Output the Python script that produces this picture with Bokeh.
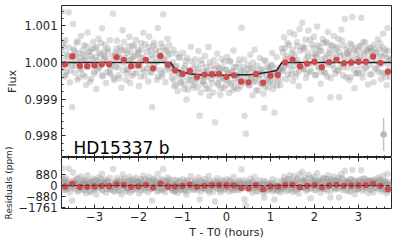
from bokeh.plotting import figure
from bokeh.layouts import column
from bokeh.models import (Range1d, LinearAxis, SingleIntervalTicker, FixedTicker,
                          CustomJSTickFormatter, Span, Label)
from bokeh.embed import file_html
from bokeh.resources import INLINE
import numpy as np

# ---------------- data ----------------
gray_t = [
    -3.76, -3.74, -3.71, -3.69, -3.66, -3.64, -3.61, -3.59, -3.56, -3.53,
    -3.51, -3.49, -3.46, -3.44, -3.41, -3.39, -3.36, -3.33, -3.31, -3.28,
    -3.26, -3.24, -3.21, -3.19, -3.16, -3.14, -3.11, -3.08, -3.06, -3.03,
    -3.01, -2.99, -2.96, -2.94, -2.91, -2.89, -2.86, -2.83, -2.81, -2.78,
    -2.76, -2.74, -2.71, -2.69, -2.66, -2.64, -2.61, -2.58, -2.56, -2.53,
    -2.51, -2.49, -2.46, -2.44, -2.41, -2.39, -2.36, -2.33, -2.31, -2.28,
    -2.26, -2.24, -2.21, -2.19, -2.16, -2.14, -2.11, -2.08, -2.06, -2.03,
    -2.01, -1.99, -1.96, -1.94, -1.91, -1.89, -1.86, -1.83, -1.81, -1.78,
    -1.76, -1.74, -1.71, -1.69, -1.66, -1.64, -1.61, -1.58, -1.56, -1.53,
    -1.51, -1.49, -1.46, -1.44, -1.41, -1.39, -1.36, -1.34, -1.31, -1.28,
    -1.26, -1.24, -1.21, -1.19, -1.16, -1.14, -1.11, -1.08, -1.06, -1.03,
    -1.01, -0.99, -0.96, -0.94, -0.91, -0.89, -0.86, -0.83, -0.81, -0.78,
    -0.76, -0.74, -0.71, -0.69, -0.66, -0.64, -0.61, -0.59, -0.56, -0.53,
    -0.51, -0.49, -0.46, -0.44, -0.41, -0.39, -0.36, -0.33, -0.31, -0.28,
    -0.26, -0.24, -0.21, -0.19, -0.16, -0.14, -0.11, -0.08, -0.06, -0.03,
    -0.01, 0.01, 0.04, 0.06, 0.09, 0.11, 0.14, 0.16, 0.19, 0.22,
    0.24, 0.26, 0.29, 0.31, 0.34, 0.36, 0.39, 0.41, 0.44, 0.47,
    0.49, 0.51, 0.54, 0.56, 0.59, 0.61, 0.64, 0.66, 0.69, 0.72,
    0.74, 0.76, 0.79, 0.81, 0.84, 0.86, 0.89, 0.91, 0.94, 0.97,
    0.99, 1.01, 1.04, 1.06, 1.09, 1.11, 1.14, 1.16, 1.19, 1.22,
    1.24, 1.26, 1.29, 1.31, 1.34, 1.36, 1.39, 1.41, 1.44, 1.47,
    1.49, 1.51, 1.54, 1.56, 1.59, 1.61, 1.64, 1.66, 1.69, 1.72,
    1.74, 1.76, 1.79, 1.81, 1.84, 1.86, 1.89, 1.91, 1.94, 1.97,
    1.99, 2.01, 2.04, 2.06, 2.09, 2.11, 2.14, 2.16, 2.19, 2.22,
    2.24, 2.26, 2.29, 2.31, 2.34, 2.36, 2.39, 2.41, 2.44, 2.47,
    2.49, 2.51, 2.54, 2.56, 2.59, 2.61, 2.64, 2.66, 2.69, 2.72,
    2.74, 2.76, 2.79, 2.81, 2.84, 2.86, 2.89, 2.91, 2.94, 2.97,
    2.99, 3.01, 3.04, 3.06, 3.09, 3.11, 3.14, 3.16, 3.19, 3.22,
    3.24, 3.26, 3.29, 3.31, 3.34, 3.36, 3.39, 3.41, 3.44, 3.47,
    3.49, 3.51, 3.54, 3.56, 3.59, 3.61, 3.64, 3.66, 3.69, 3.72,
    -3.75, -3.72, -3.70, -3.68, -3.65, -3.63, -3.60, -3.58, -3.55, -3.52,
    -3.50, -3.47, -3.45, -3.43, -3.40, -3.38, -3.35, -3.33, -3.30, -3.27,
    -3.25, -3.22, -3.20, -3.18, -3.15, -3.13, -3.10, -3.08, -3.05, -3.02,
    -3.00, -2.97, -2.95, -2.93, -2.90, -2.88, -2.85, -2.83, -2.80, -2.77,
    -2.75, -2.72, -2.70, -2.68, -2.65, -2.63, -2.60, -2.58, -2.55, -2.52,
    -2.50, -2.47, -2.45, -2.43, -2.40, -2.38, -2.35, -2.33, -2.30, -2.27,
    -2.25, -2.22, -2.20, -2.18, -2.15, -2.13, -2.10, -2.08, -2.05, -2.02,
    -2.00, -1.97, -1.95, -1.93, -1.90, -1.88, -1.85, -1.83, -1.80, -1.77,
    -1.75, -1.72, -1.70, -1.68, -1.65, -1.63, -1.60, -1.58, -1.55, -1.52,
    -1.50, -1.47, -1.45, -1.43, -1.40, -1.38, -1.35, -1.33, -1.30, -1.27,
    -1.25, -1.22, -1.20, -1.18, -1.15, -1.13, -1.10, -1.08, -1.05, -1.02,
    -1.00, -0.97, -0.95, -0.93, -0.90, -0.88, -0.85, -0.83, -0.80, -0.77,
    -0.75, -0.72, -0.70, -0.68, -0.65, -0.63, -0.60, -0.58, -0.55, -0.52,
    -0.50, -0.47, -0.45, -0.43, -0.40, -0.38, -0.35, -0.33, -0.30, -0.27,
    -0.25, -0.22, -0.20, -0.18, -0.15, -0.13, -0.10, -0.08, -0.05, -0.02,
    0.00, 0.03, 0.05, 0.07, 0.10, 0.12, 0.15, 0.17, 0.20, 0.23,
    0.25, 0.28, 0.30, 0.32, 0.35, 0.37, 0.40, 0.42, 0.45, 0.48,
    0.50, 0.53, 0.55, 0.57, 0.60, 0.62, 0.65, 0.67, 0.70, 0.73,
    0.75, 0.78, 0.80, 0.82, 0.85, 0.87, 0.90, 0.92, 0.95, 0.98,
    1.00, 1.03, 1.05, 1.07, 1.10, 1.12, 1.15, 1.17, 1.20, 1.23,
    1.25, 1.28, 1.30, 1.32, 1.35, 1.37, 1.40, 1.42, 1.45, 1.48,
    1.50, 1.53, 1.55, 1.57, 1.60, 1.62, 1.65, 1.67, 1.70, 1.73,
    1.75, 1.78, 1.80, 1.82, 1.85, 1.87, 1.90, 1.92, 1.95, 1.98,
    2.00, 2.03, 2.05, 2.07, 2.10, 2.12, 2.15, 2.17, 2.20, 2.23,
    2.25, 2.28, 2.30, 2.32, 2.35, 2.37, 2.40, 2.42, 2.45, 2.48,
    2.50, 2.53, 2.55, 2.57, 2.60, 2.62, 2.65, 2.67, 2.70, 2.73,
    2.75, 2.78, 2.80, 2.82, 2.85, 2.87, 2.90, 2.92, 2.95, 2.98,
    3.00, 3.03, 3.05, 3.07, 3.10, 3.12, 3.15, 3.17, 3.20, 3.23,
    3.25, 3.28, 3.30, 3.32, 3.35, 3.37, 3.40, 3.42, 3.45, 3.48,
    3.50, 3.53, 3.55, 3.57, 3.60, 3.62, 3.65, 3.67, 3.70, 3.73,
]
# flux deviation of individual exposures from 1.0, in ppm
gray_dflux_ppm = [
    -120, 1390, 420, -380, 610, -260, 180, 1370, -540, 90,
    -1220, 1050, 320, -90, 540, -470, 260, -200, 720, 40,
    -330, 470, 150, -610, 820, -40, 290, -450, 110, 560,
    -250, 380, -720, 60, 650, -150, 240, 930, -380, 170,
    480, -560, 30, 310, -270, -160, -80, 1330, -420, 200,
    -130, 590, -350, 140, 410, -690, 880, -20, 330, -480,
    260, -210, 700, -560, 90, 450, -310, 180, 620, -90,
    350, -640, 120, 530, -180, 810, -370, 60, 280, -520,
    710, -250, 200, -1220, 470, -60, 360, -470, 940, 130,
    -210, 520, -380, 1310, 90, -540, 310, 650, -160, 240,
    -80, -420, 350, -650, -120, 240, -780, -300, 150, -560,
    -330, 260, -720, -90, -1010, 120, -480, -240, 430, -610,
    -150, -690, 90, -450, -260, 310, -1450, -820, -40, -540,
    -380, 180, -720, -230, 420, -910, -100, -560, -310, 60,
    -1630, -330, 240, -610, -150, -880, 90, -420, -700, -190,
    -470, 150, -300, -830, 20, -560, -240, 330, -680, -120,
    -360, -720, 80, -250, 950, -540, -130, -1450, -1940, -410,
    -60, -630, 210, -380, -900, -170, 350, -520, -280, -760,
    -320, 120, -590, -210, -850, -1240, 40, -460, -690, -150,
    -530, -90, 260, -720, -1360, -300, 140, -480, -210, -620,
    -130, 380, -240, 690, 110, -460, 530, -70, 820, -330,
    240, -510, 760, 30, -290, 450, -640, 910, -120, 1080,
    360, -180, 620, -420, 150, 870, -260, -1010, 490, -30,
    700, -350, 220, 980, -140, 410, -580, 310, 640, -260,
    120, 560, -390, 830, 260, -950, 470, -60, 720, -310,
    380, -220, 650, -950, 170, 900, -130, 460, 1190, -400,
    250, 240, -480, 520, -50, 1240, 330, -700, -310, 90,
    -280, 430, 150, 1220, -410, 560, 290, -120, 360, -600,
    410, -330, 320, 60, -540, 380, 240, -180, 630, -70,
    520, -450, 170, 780, -290, 350, -620, 940, 100, -380,
    310, -150, 520, 80, -340, 240, -60, 410, -220, 150,
    -90, 360, -280, 190, 40, 580, -410, 120, -170, 330,
    210, -380, 60, 450, -130, 290, -520, 170, 380, -40,
    -310, 140, 420, -190, 260, -80, 530, -350, 90, 310,
    150, -260, 380, -40, 610, -330, 180, 20, -480, 270,
    390, -120, 230, -430, 80, 340, -210, 560, 130, -300,
    -170, 440, 60, 290, -370, 150, 470, -90, -280, 230,
    280, -20, -390, 360, 140, -240, 500, 70, -160, 420,
    -60, 330, -280, 110, 540, -170, 240, 20, -390, 310,
    180, -300, 430, 60, -220, 350, -90, 190, 480, -140,
    -270, 10, -480, -190, -620, -90, -350, 120, -530, -240,
    -410, -160, -600, 40, -310, -740, -210, -470, 30, -380,
    -290, -540, -80, -420, -660, -180, -370, 60, -510, -250,
    -600, -120, -390, -280, -710, 10, -450, -330, -820, -170,
    -360, -90, -560, -240, -470, -700, -150, -410, 20, -620,
    -200, -480, -310, 50, -590, -260, -740, -130, -420, -350,
    -530, -40, -380, -650, -210, -470, 80, -300, -560, -190,
    -310, -610, -150, -440, 0, -520, -280, -760, -90, -370,
    -450, -180, -570, -290, 60, -660, -340, -120, -500, -230,
    -380, -60, -590, -250, -440, -140, -630, -310, -200, -460,
    -210, 270, -140, 390, -60, 180, -330, 480, 110, -200,
    350, -90, 200, -380, 560, 70, -240, 310, -120, 430,
    -180, 410, 90, -300, 260, -50, 620, -220, 140, 380,
    240, -340, 150, 470, -110, 310, -250, 80, 530, -20,
    -290, 200, 520, -60, 340, -420, 130, 450, -170, 260,
    110, 430, -230, 280, -80, 600, -350, 190, 40, 370,
    -140, 310, 170, -400, 480, 60, -200, 380, 220, -290,
    330, -110, 460, 70, -270, 240, 550, -160, 120, 300,
    -60, 390, -320, 200, 490, -150, 280, 40, -250, 360,
    180, -280, 410, -20, 250, -400, 130, 320, -110, 60,
]

# transit model line
model_t = [-3.75, -1.27, -1.18, -1.0, -0.85, -0.55, 0.0, 0.59, 0.97, 1.14, 1.26, 3.75]
model_flux = [1.0, 1.0, 0.99983, 0.99974, 0.99969, 0.99966, 0.99965, 0.99967,
              0.99974, 0.99978, 1.0, 1.0]

# 10-minute binned points
bin_t = [-3.667, -3.5, -3.333, -3.167, -3.0, -2.833, -2.667, -2.5, -2.333, -2.167,
         -2.0, -1.833, -1.667, -1.5, -1.333, -1.167, -1.0, -0.833, -0.667, -0.5,
         -0.333, -0.167, 0.0, 0.167, 0.333, 0.5, 0.667, 0.833, 1.0, 1.167,
         1.333, 1.5, 1.667, 1.833, 2.0, 2.167, 2.333, 2.5, 2.667, 2.833,
         3.0, 3.167, 3.333, 3.5, 3.667]
bin_flux = [0.99995, 1.00017, 0.99991, 0.99990, 0.99992, 0.99995, 0.99995, 1.00014, 1.00007, 0.99990,
            0.99992, 1.00007, 0.99984, 1.00018, 0.99994, 0.99978, 0.99969, 0.99977, 0.99961, 0.99967,
            0.99968, 0.99969, 0.99961, 0.99965, 0.99948, 0.99946, 0.99968, 0.99945, 0.99964, 0.99966,
            1.00000, 1.00008, 0.99990, 0.99997, 1.00002, 0.99987, 1.00001, 1.00007, 0.99998, 1.00000,
            1.00002, 1.00002, 1.00016, 0.99999, 0.99975]
bin_res_ppm = [-80, 133, -107, -107, -80, -27, -53, 80, 27, -107,
               -80, 53, -160, 133, -80, -80, -27, 53, -107, -27,
               27, 27, 0, 0, -187, -213, 27, -293, -80, -80,
               27, 53, -133, -27, 27, -133, 0, 53, -27, 0,
               0, 27, 133, -27, -293]

# typical error bar
err_t = [3.57]
err_flux = [0.99804]
err_half = [0.00045]

res_ticks = [-1761, -880, 0, 880]
planet_name = "HD15337 b"

# ---------------- derived ----------------
gt = np.array(gray_t)
gflux = 1.0 + np.array(gray_dflux_ppm) * 1e-6
gres = (gflux - np.interp(gt, model_t, model_flux)) * 1e6

FONT = "DejaVu Sans"
TXT = "#262626"
GRAY = (150, 150, 150)
RED = "#cd4b4f"
TICK_FS = "11.5px"
OVERLAP = 14   # residual canvas slides up under the upper panel's bottom edge

xr = Range1d(-3.75, 3.75)

minus_fmt = CustomJSTickFormatter(code="""
    const s = tick.toString();
    return tick < 0 ? '\u2212' + s.slice(1) : s;
""")


def style_axis(ax):
    ax.major_tick_in = 4
    ax.major_tick_out = 0
    ax.minor_tick_in = 2
    ax.minor_tick_out = 0
    ax.axis_line_color = None
    ax.major_tick_line_color = TXT
    ax.minor_tick_line_color = TXT
    ax.major_label_text_font = FONT
    ax.major_label_text_font_size = TICK_FS
    ax.major_label_text_color = TXT
    ax.axis_label_text_font = FONT
    ax.axis_label_text_font_style = "normal"
    ax.axis_label_text_color = TXT


def hide_labels(ax):
    ax.major_label_text_color = None
    ax.major_label_text_alpha = 0
    ax.major_label_standoff = 0


# ---------------- top panel ----------------
top = figure(frame_width=330, frame_height=152, x_range=xr,
             y_range=Range1d(0.997411, 1.001553),
             min_border_left=59, min_border_right=5, min_border_top=5, min_border_bottom=0,
             output_backend="svg", toolbar_location=None)
top.grid.visible = False
top.outline_line_color = TXT
top.outline_line_width = 1

top.scatter(gt, gflux, size=6.5, fill_color=GRAY, fill_alpha=0.33, line_color=None)
top.segment(x0=err_t, y0=[f - e for f, e in zip(err_flux, err_half)],
            x1=err_t, y1=[f + e for f, e in zip(err_flux, err_half)],
            line_color=(195, 195, 195), line_width=1.5)
top.scatter(err_t, err_flux, size=6.5, fill_color=(185, 185, 185), line_color=None)
top.line(model_t, model_flux, line_color="#222222", line_width=1.5)
top.scatter(bin_t, bin_flux, size=6.3, fill_color=RED, line_color=None)

top.add_layout(Label(x=-3.48, y=0.99768, text=planet_name, text_font=FONT,
                     text_font_size="17px", text_color="black",
                     text_baseline="alphabetic"))

xa = top.xaxis[0]
style_axis(xa)
xa.ticker = SingleIntervalTicker(interval=1, num_minor_ticks=5)
hide_labels(xa)

ya = top.yaxis[0]
style_axis(ya)
ya.ticker = SingleIntervalTicker(interval=0.001, num_minor_ticks=5)
ya.formatter = CustomJSTickFormatter(code="return tick.toFixed(3);")
ya.axis_label = "Flux"
ya.axis_label_text_font_size = "11px"
ya.axis_label_standoff = 3
ya.major_label_standoff = 4

# ---------------- residual panel ----------------
res = figure(frame_width=330, frame_height=51, x_range=xr,
             y_range=Range1d(-1840, 2240),
             min_border_left=59, min_border_right=5, min_border_top=OVERLAP,
             min_border_bottom=0,
             output_backend="svg", toolbar_location=None,
             styles={"margin-top": f"-{OVERLAP}px"})
res.grid.visible = False
res.outline_line_color = TXT
res.outline_line_width = 1
res.border_fill_color = None
res.background_fill_color = "white"

res.scatter(gt, gres, size=6.5, fill_color=GRAY, fill_alpha=0.33, line_color=None)
res.add_layout(Span(location=0, dimension="width", line_color="#333333",
                    line_width=1, line_dash="4 2"))
res.scatter(bin_t, bin_res_ppm, size=6.3, fill_color=RED, line_color=None)

bx = res.xaxis[0]
style_axis(bx)
bx.ticker = SingleIntervalTicker(interval=1, num_minor_ticks=5)
bx.formatter = minus_fmt
bx.major_label_standoff = 3
bx.axis_label = "T - T0 (hours)"
bx.axis_label_text_font_size = "11px"
bx.axis_label_standoff = 2

ax_top = LinearAxis(ticker=SingleIntervalTicker(interval=1, num_minor_ticks=5))
style_axis(ax_top)
hide_labels(ax_top)
res.add_layout(ax_top, "above")

by = res.yaxis[0]
style_axis(by)
by.ticker = FixedTicker(ticks=res_ticks)
by.formatter = minus_fmt
by.major_label_standoff = 4
by.axis_label = "Residuals (ppm)"
by.axis_label_text_font_size = "9px"
by.axis_label_standoff = 2

layout = column(top, res, spacing=0)
open("out.html", "w").write(file_html(layout, INLINE))
